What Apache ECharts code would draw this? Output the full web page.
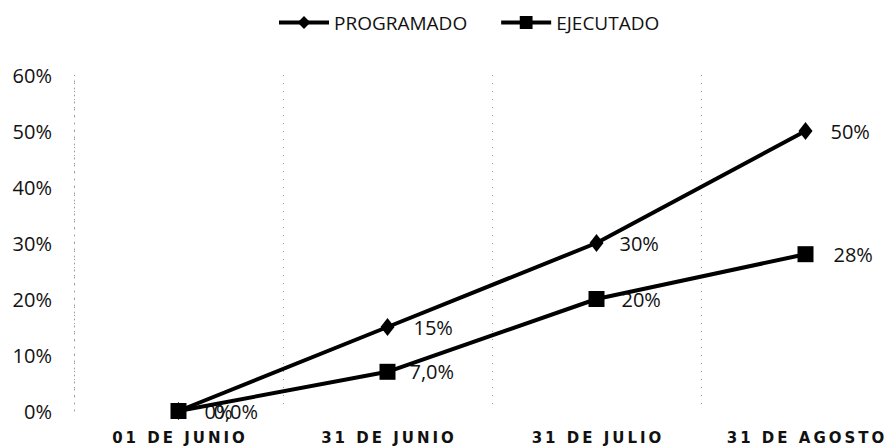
<!DOCTYPE html>
<html>
<head>
<meta charset="utf-8">
<style>
  html, body { margin: 0; padding: 0; background: #fff; }
  #chart { width: 887px; height: 447px; }
</style>
<script src="https://cdn.jsdelivr.net/npm/echarts@6/dist/echarts.min.js"></script>
</head>
<body>
<div id="chart"></div>
<script>
// Fechas de corte del avance
const categories = ['01 DE JUNIO', '31 DE JUNIO', '31 DE JULIO', '31 DE AGOSTO'];

// Avance acumulado (%)
const programado = [0, 15, 30, 50];
const ejecutado = [0, 7, 20, 28];

// Etiquetas tal como se muestran junto a cada punto
const programadoLabels = ['0%', '15%', '30%', '50%'];
const ejecutadoLabels = ['0,0%', '7,0%', '20%', '28%'];

// Eje vertical
const yMin = 0, yMax = 60, yStep = 10;

const textFont = '"Open Sans", "Liberation Sans", sans-serif';
const dateTracking = 3.0; // espaciado entre letras de las fechas (px)

const chart = echarts.init(document.getElementById('chart'), null, { renderer: 'svg' });

function labelled(values, labels, distances) {
  return values.map((v, i) => ({
    value: v,
    label: { formatter: labels[i], distance: distances[i] }
  }));
}

chart.setOption({
  backgroundColor: '#ffffff',
  animation: false,
  legend: {
    top: 8,
    left: 272,
    itemWidth: 50,
    itemHeight: 16,
    itemGap: 32,
    lineStyle: { width: 4 },
    textStyle: { fontFamily: textFont, fontSize: 19, color: '#111' },
    data: ['PROGRAMADO', 'EJECUTADO']
  },
  grid: {
    left: 74, width: 836, top: 75, bottom: 36,
    containLabel: false,
    outerBoundsMode: 'none'
  },
  xAxis: {
    type: 'category',
    data: categories,
    boundaryGap: true,
    axisLine: { show: false },
    axisTick: { show: false },
    axisLabel: {
      margin: 19,
      fontFamily: '"DejaVu Sans", sans-serif',
      fontWeight: 'bold',
      fontSize: 15,
      color: '#111'
    },
    splitLine: {
      show: true,
      lineStyle: { color: '#9a9a9a', width: 1, type: [1, 7] }
    }
  },
  yAxis: {
    type: 'value',
    min: yMin,
    max: yMax,
    interval: yStep,
    axisLine: { show: true, lineStyle: { color: '#9a9a9a', width: 1, type: [1, 6] } },
    axisTick: { show: false },
    splitLine: { show: false },
    axisLabel: {
      margin: 22,
      formatter: '{value}%',
      fontFamily: textFont,
      fontSize: 20,
      color: '#111'
    }
  },
  series: [
    {
      name: 'PROGRAMADO',
      type: 'line',
      data: labelled(programado, programadoLabels, [19, 19, 16, 18]),
      symbol: 'diamond',
      symbolSize: [14, 18],
      itemStyle: { color: '#000' },
      lineStyle: { color: '#000', width: 4 },
      label: {
        show: true,
        position: 'right',
        fontFamily: textFont,
        fontSize: 20,
        color: '#111'
      },
      z: 3
    },
    {
      name: 'EJECUTADO',
      type: 'line',
      data: labelled(ejecutado, ejecutadoLabels, [27, 14, 17, 20]),
      symbol: 'rect',
      symbolSize: 16,
      itemStyle: { color: '#000' },
      lineStyle: { color: '#000', width: 4 },
      label: {
        show: true,
        position: 'right',
        fontFamily: textFont,
        fontSize: 20,
        color: '#111'
      },
      z: 4
    }
  ]
});

// Fechas del eje horizontal con letras espaciadas
document.querySelectorAll('#chart svg text').forEach(function (t) {
  if (categories.indexOf(t.textContent) !== -1) {
    t.style.letterSpacing = dateTracking + 'px';
    t.setAttribute('dx', (dateTracking / 2).toFixed(1));
  }
});
</script>
</body>
</html>
